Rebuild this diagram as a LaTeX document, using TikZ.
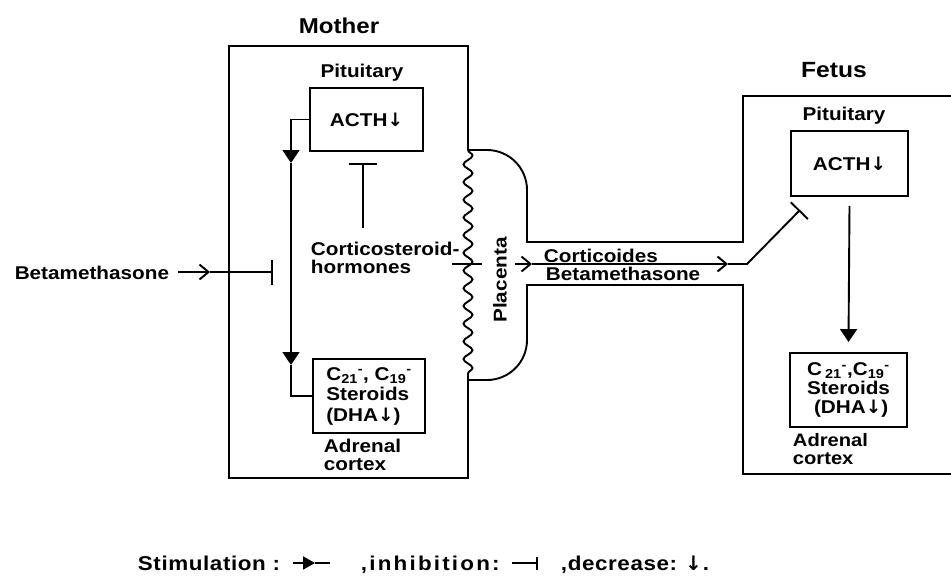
\documentclass[tikz,border=0pt]{standalone}
\usepackage{fontspec}
\setmainfont{Liberation Sans}[FakeStretch=1.12]
\newfontfamily\arrowfont{DejaVu Sans}
\usepackage{tikz}
\usetikzlibrary{arrows.meta}
\usetikzlibrary{decorations.pathmorphing}
\newcommand\decr{{\arrowfont\bfseries ↓}}

\begin{document}
\begin{tikzpicture}[x=1pt,y=-1pt,line width=1.9pt,
  txt/.style={inner sep=0pt,font=\bfseries\fontsize{18.5}{20.5}\selectfont},
  box/.style={draw,txt,align=left},
  leg/.style={txt,anchor=base west,font=\bfseries\fontsize{20}{22}\selectfont\addfontfeature{LetterSpace=#1}},
  stimto/.style={-{Triangle[length=13pt,width=17pt]}},
  barbto/.style={-{Straight Barb[length=9pt,width=15pt]}},
  inhibto/.style={-{Bar[width=#1]}}]
\useasboundingbox (0,0) rectangle (951,579);
\draw (468,150) -- (468,46) -- (229,46) -- (229,478) -- (468,478) -- (468,380);
\draw[decorate,decoration={snake,segment length=17.7pt,amplitude=4.5pt}] (468,150) -- (468,380);
\draw (951,96) -- (743,96) -- (743,242) -- (527,242) [rounded corners=40pt] -- (527,150) -- (468,150);
\draw (951,474) -- (743,474) -- (743,285) -- (527,285) [rounded corners=40pt] -- (527,380) -- (468,380);
\node[txt,anchor=base,font=\bfseries\fontsize{21.5}{24}\selectfont] (mother) at (339,33) {Mother};
\node[txt,anchor=base] (pitm) at (362,77.5) {Pituitary};
\node[box,minimum width=113pt,minimum height=63pt] (acthm) at (366.5,119.5) {ACTH\decr};
\node[box,minimum width=112pt,minimum height=74pt] (sterm) at (369,396) {C\textsubscript{21}\textsuperscript{-}, C\textsubscript{19}\textsuperscript{-}\\Steroids\\(DHA\decr)};
\node[txt,align=left,anchor=west,font=\bfseries\fontsize{18.5}{17.5}\selectfont] (adrm) at (323,455) {Adrenal\\cortex};
\node[txt,align=left,anchor=west,font=\bfseries\fontsize{18.5}{18}\selectfont] (horm) at (310,258) {Corticosteroid-\\hormones};
\node[txt,anchor=base east] (betam) at (170,279) {Betamethasone};
\node[txt,rotate=90] (plac) at (500,280) {Placenta};
\coordinate (fbm) at (291,163);
\coordinate (fbs) at (291,365);
\draw[stimto] (acthm.west) -| (fbm);
\draw[stimto] (fbm) -- (fbs);
\draw (fbs) |- (sterm.west);
\coordinate (hm) at (363,228);
\coordinate (hmb) at (363,163);
\draw[inhibto=28pt] (hm) -- (hmb);
\coordinate (bk) at (210,272);
\coordinate (bb) at (273,272);
\draw[barbto] ([xshift=8pt]betam.east |- bk) -- (bk);
\draw[inhibto=25pt] (bk) -- (bb);
\coordinate (hp0) at (452,264);
\coordinate (hp1) at (482,264);
\draw (hp0) -- (hp1);
\coordinate (c0) at (515,264);
\coordinate (c1) at (532,264);
\coordinate (c2) at (728,264);
\coordinate (c3) at (747,264);
\coordinate (fi) at (800,210);
\draw[barbto] (c0) -- (c1);
\draw[barbto] (c1) -- (c2);
\draw[inhibto=24pt] (c2) -- (c3) -- (fi);
\node[txt,anchor=base west] (cort) at (543,262) {Corticoides};
\node[txt,anchor=base west] (betaf) at (545,280) {Betamethasone};
\node[txt,anchor=base,font=\bfseries\fontsize{22}{24}\selectfont] (fetus) at (834,77) {Fetus};
\node[txt,anchor=base] (pitf) at (844,120) {Pituitary};
\node[box,minimum width=117pt,minimum height=65pt] (acthf) at (849.5,163.5) {ACTH\decr};
\node[box,minimum width=117pt,minimum height=74pt,font=\bfseries\fontsize{18.5}{19}\selectfont] (sterf) at (848.5,390) {C\,\textsubscript{21}\textsuperscript{-},C\textsubscript{19}\textsuperscript{-}\\Steroids\\\hspace{7pt}(DHA\decr)};
\node[txt,align=left,anchor=west,font=\bfseries\fontsize{18}{17.5}\selectfont] (adrf) at (792,449) {Adrenal\\cortex};
\draw[stimto] ([yshift=-9pt]acthf.south) -- ([yshift=10pt]sterf.north);
\node[leg=3] (legs) at (137,570) {Stimulation :};
\coordinate (ls0) at (293,563);
\coordinate (ls1) at (315,563);
\coordinate (ls2) at (330,563);
\draw[-{Triangle[length=12pt,width=13pt]}] (ls0) -- (ls1);
\draw (ls1) -- (ls2);
\node[leg=11] (legi) at (360,570) {,inhibition:};
\coordinate (li0) at (512,563);
\coordinate (li1) at (538,563);
\draw[inhibto=13pt] (li0) -- (li1);
\node[leg=3] (legd) at (560,570) {,decrease:\hspace{8pt}\decr\hspace{1pt}.};
\end{tikzpicture}
\end{document}
